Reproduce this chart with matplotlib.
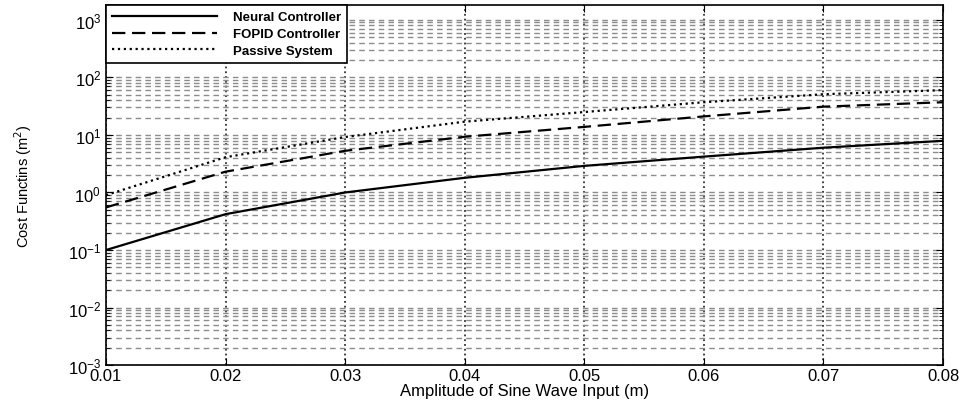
import numpy as np
import matplotlib.pyplot as plt
from matplotlib.ticker import LogLocator, FixedLocator

plt.rcParams['font.family'] = ['Liberation Sans', 'DejaVu Sans']

amplitude = [0.01, 0.02, 0.03, 0.04, 0.05, 0.06, 0.07, 0.08]
neural = [0.10, 0.42, 1.0, 1.8, 2.9, 4.2, 6.0, 7.9]
fopid = [0.55, 2.3, 5.3, 9.3, 13.8, 21, 31, 37]
passive = [0.9, 4.1, 9.2, 17, 25, 37, 51, 60]
xticks = [0.01, 0.02, 0.03, 0.04, 0.05, 0.06, 0.07, 0.08]

fig = plt.figure(figsize=(9.67, 4.10), dpi=100)
ax = fig.add_axes([0.1096, 0.107, 0.8656, 0.878])

ax.semilogy(amplitude, neural, '-', color='black', lw=1.6, label='Neural Controller')
ax.semilogy(amplitude, fopid, '--', color='black', lw=1.6, dashes=(6, 3), label='FOPID Controller')
ax.semilogy(amplitude, passive, ':', color='black', lw=1.6, label='Passive System')

ax.set_xlim(0.01, 0.08)
ax.set_ylim(1e-3, 1.8e3)
ax.xaxis.set_major_locator(FixedLocator(xticks))
ax.set_xticklabels(['%.2f' % t for t in xticks])
ax.yaxis.set_major_locator(LogLocator(base=10, numticks=10))
ax.yaxis.set_minor_locator(LogLocator(base=10, subs=np.arange(2, 10), numticks=10))

# matlab-like grid: dotted verticals, grey dashed horizontals
ax.grid(True, which='major', axis='x', linestyle=':', color='#333333', lw=1.3)
ax.grid(True, which='both', axis='y', linestyle=(0, (4, 3)), color='#8c8c8c', lw=1.0)

ax.tick_params(which='both', direction='in', top=True, right=True, labelsize=12)
ax.tick_params(which='major', length=5)
ax.tick_params(which='minor', length=3)
ax.tick_params(axis='x', pad=2)
for s in ax.spines.values():
    s.set_linewidth(1.2)

ax.set_xlabel('Amplitude of Sine Wave Input (m)', fontsize=12, labelpad=0)
ax.set_ylabel('Cost Functins (m$^2$)', fontsize=10.5, labelpad=24)

leg = ax.legend(loc='upper left', fontsize=9.5, frameon=True, fancybox=False,
                edgecolor='black', framealpha=1, borderaxespad=0, handlelength=8,
                handletextpad=1.2, borderpad=0.45, labelspacing=0.35)
leg.get_frame().set_linewidth(1.2)
for t in leg.get_texts():
    t.set_fontweight('bold')

fig.savefig('out.png', dpi=100)
